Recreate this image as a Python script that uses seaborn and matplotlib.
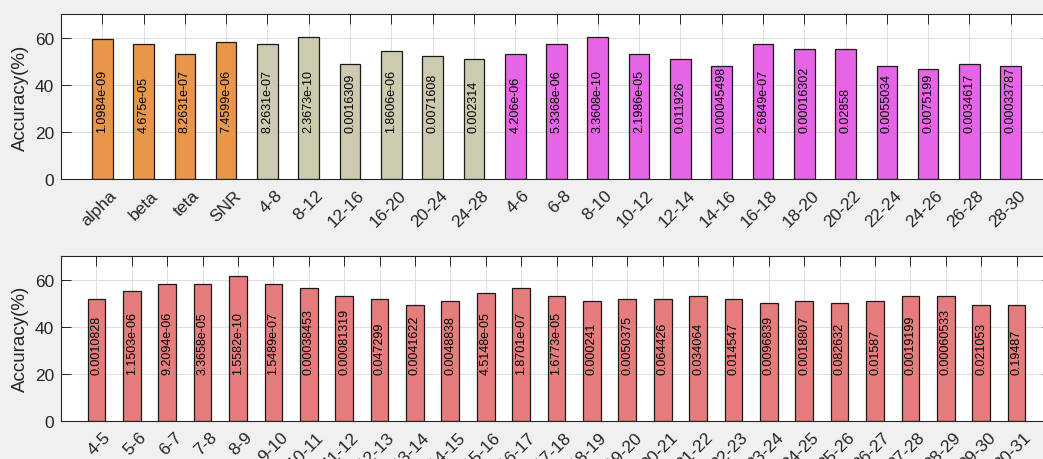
import matplotlib
matplotlib.use("Agg")
import matplotlib.pyplot as plt
import matplotlib.transforms as mtransforms
import seaborn as sns
import pandas as pd

# Upper panel: band-power features and frequency sub-bands
top_labels = ["alpha", "beta", "teta", "SNR",
              "4-8", "8-12", "12-16", "16-20", "20-24", "24-28",
              "4-6", "6-8", "8-10", "10-12", "12-14", "14-16", "16-18",
              "18-20", "20-22", "22-24", "24-26", "26-28", "28-30"]
top_groups = ["band"] * 4 + ["wide"] * 6 + ["narrow"] * 13
top_acc = [59.2, 57.4, 53.2, 58.2,
           57.4, 60.4, 49.0, 54.1, 52.1, 51.1,
           53.2, 57.4, 60.4, 53.2, 51.1, 48.0, 57.4,
           55.3, 55.3, 48.0, 46.8, 49.0, 48.0]
top_p = ["1.0984e-09", "4.675e-05", "8.2631e-07", "7.4599e-06",
         "8.2631e-07", "2.3673e-10", "0.0016309", "1.8606e-06", "0.0071608", "0.002314",
         "4.206e-06", "5.3368e-06", "3.3608e-10", "2.1986e-05", "0.011926", "0.00045498",
         "2.6849e-07", "0.00016302", "0.02858", "0.0055034", "0.0075199", "0.0034617",
         "0.00033787"]

# Lower panel: 1 Hz sub-bands
bot_labels = [f"{f}-{f + 1}" for f in range(4, 31)]
bot_acc = [51.9, 55.2, 58.3, 58.3, 61.3, 58.3, 56.2, 53.2, 51.9, 49.0,
           50.9, 54.1, 56.2, 53.1, 50.9, 51.9, 51.9, 53.1, 51.9, 50.0,
           50.9, 50.0, 50.9, 53.1, 53.1, 49.0, 49.0]
bot_p = ["0.0010828", "1.1503e-06", "9.2094e-06", "3.3658e-05", "1.5582e-10",
         "1.5489e-07", "0.00038453", "0.00081319", "0.047299", "0.0041622",
         "0.0048838", "4.5148e-05", "1.8701e-07", "1.6773e-05", "0.000241",
         "0.0050375", "0.064426", "0.034064", "0.014547", "0.0096839",
         "0.0018807", "0.082632", "0.01587", "0.0019199", "0.00060533",
         "0.021053", "0.19487"]

palette = {"band": "#e8964a", "wide": "#cccbb0", "narrow": "#e664e6", "fine": "#e67d7d"}

sns.set_style("ticks")
ink = "#262626"
plt.rcParams.update({
    "font.family": ["Liberation Sans", "DejaVu Sans"],
    "axes.edgecolor": ink,
    "axes.linewidth": 0.8,
    "xtick.color": ink,
    "ytick.color": ink,
    "axes.labelcolor": ink,
})

fig = plt.figure(figsize=(10.43, 4.60), dpi=100, facecolor="#f0f0f0")
W, H = 1043.0, 460.0
ax_top = fig.add_axes([61 / W, (H - 180) / H, (1052 - 61) / W, 165 / H])
ax_bot = fig.add_axes([61 / W, (H - 421.7) / H, (1052 - 61) / W, 164.7 / H])


def draw_panel(ax, labels, acc, groups, pvals):
    df = pd.DataFrame({"band": labels, "acc": acc, "grp": groups})
    sns.barplot(data=df, x="band", y="acc", hue="grp", palette=palette,
                order=labels, dodge=False, width=0.5, legend=False,
                saturation=1, edgecolor="#1a1a1a", linewidth=0.9, ax=ax, zorder=2)
    n = len(labels)
    ax.set_xlim(-1, n)
    ax.set_ylim(0, 70)
    ax.set_yticks([0, 20, 40, 60])
    ax.set_xticks(range(n))
    ax.tick_params(axis="x", direction="in", top=True, bottom=True,
                   length=7.5, width=0.7, labelsize=12.5, pad=5)
    ax.tick_params(axis="y", direction="in", left=True, right=True,
                   length=7.5, width=0.7, labelsize=12.5, pad=5)
    ax.set_xticklabels(labels, rotation=45, ha="right", va="top",
                       rotation_mode="anchor")
    # nudge rotated tick labels so their ends sit just right of each tick
    shift = mtransforms.ScaledTranslation(5 / 72, -1 / 72, ax.figure.dpi_scale_trans)
    for lab in ax.get_xticklabels():
        lab.set_transform(lab.get_transform() + shift)
    ax.set_xlabel("")
    ax.set_ylabel("Accuracy(%)", fontsize=13.5, labelpad=4)
    ax.set_facecolor("white")
    ax.grid(True, color="#dfdfdf", linewidth=0.7)
    ax.set_axisbelow(True)
    for sp in ax.spines.values():
        sp.set_visible(True)
        sp.set_zorder(5)
    for i, txt in enumerate(pvals):
        ax.text(i, 20, txt, rotation=90, ha="center", va="bottom",
                fontsize=9, color="black", zorder=4)


draw_panel(ax_top, top_labels, top_acc, top_groups, top_p)
draw_panel(ax_bot, bot_labels, bot_acc, ["fine"] * len(bot_labels), bot_p)

fig.savefig("out.png", dpi=100, facecolor=fig.get_facecolor())
